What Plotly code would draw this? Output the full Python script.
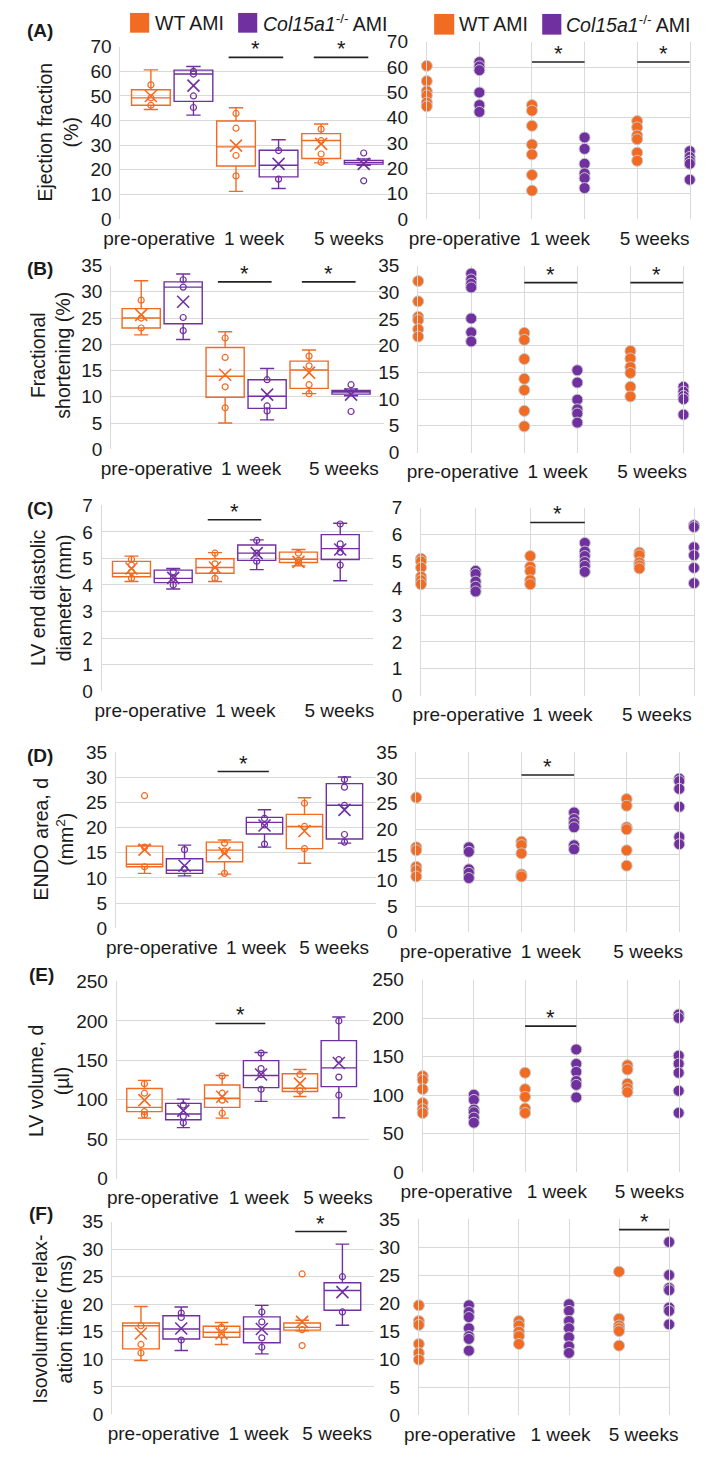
import plotly.graph_objects as go

FIG_W, FIG_H = 709, 1457
ORANGE = "#F26B22"
PURPLE = "#7030A0"
GRID = "#D9D9D9"
FONT = "Liberation Sans, Arial, sans-serif"
TXT = "#1a1a1a"

time_labels = ["pre-operative", "1 week", "5 weeks"]
legend_labels = ["WT AMI", "<i>Col15a1</i><sup>-/-</sup> AMI"]

# order of groups: WT pre, KO pre, WT 1wk, KO 1wk, WT 5wk, KO 5wk
# ---------------- (A) Ejection fraction (%)
A_lower = [44.5, 42.2, 11.2, 12.4, 22.8, 21.8]
A_q1 = [46.2, 47.8, 21.5, 17.1, 24.6, 22.3]
A_median = [49.2, 58.9, 29.3, 21.8, 31.9, 23.0]
A_q3 = [52.5, 60.5, 39.8, 27.9, 34.7, 23.8]
A_upper = [60.6, 62.0, 45.2, 32.2, 38.6, 24.4]
A_mean = [50.0, 54.2, 29.8, 22.4, 30.5, 22.4]
A_points = [[54.5, 49.2, 46.2], [60.0, 58.9, 50.0, 45.3], [42.9, 36.9, 25.8, 17.5],
            [27.8, 16.2], [36.5, 31.8, 26.4, 23.1], [26.8, 15.5]]
A_dots = [[60.5, 54.5, 50.5, 48.8, 46.0, 44.5], [62.0, 60.3, 58.8, 50.0, 45.0, 42.3],
          [45.0, 42.8, 36.8, 29.4, 25.5, 17.4, 11.2], [32.2, 27.7, 21.8, 18.0, 16.1, 12.2],
          [38.7, 36.2, 33.0, 31.5, 26.2, 23.0], [26.8, 24.5, 23.0, 21.8, 15.5]]

# ---------------- (B) Fractional shortening (%)
B_lower = [21.8, 20.9, 5.0, 5.6, 10.6, 10.2]
B_q1 = [23.1, 23.9, 9.9, 7.8, 11.6, 10.5]
B_median = [25.0, 30.9, 13.9, 10.1, 15.1, 10.9]
B_q3 = [26.8, 31.9, 19.4, 13.25, 16.8, 11.2]
B_upper = [32.1, 33.4, 22.4, 15.4, 18.9, 11.5]
B_mean = [25.6, 28.1, 14.2, 10.4, 14.6, 10.4]
B_points = [[28.4, 25.0, 23.1], [32.3, 30.9, 25.1, 22.6], [21.2, 17.5, 11.9, 7.9],
            [13.25, 8.25, 7.3], [17.75, 15.9, 12.3, 10.6], [12.3, 7.2]]
B_dots = [[32.1, 28.3, 25.4, 24.8, 23.1, 21.7], [33.5, 32.4, 31.6, 30.9, 25.1, 22.5, 20.8],
          [22.4, 21.1, 17.5, 13.8, 11.7, 7.8, 4.9], [15.4, 13.1, 9.9, 8.1, 7.3, 5.6],
          [19.0, 17.6, 16.0, 14.9, 12.3, 10.5], [12.3, 11.4, 10.6, 10.0, 7.1]]

# ---------------- (C) LV end diastolic diameter (mm)
C_lower = [4.13, 3.85, 4.13, 4.58, 4.72, 4.16]
C_q1 = [4.31, 4.09, 4.44, 4.93, 4.85, 4.96]
C_median = [4.44, 4.25, 4.66, 5.20, 4.97, 5.37]
C_q3 = [4.89, 4.56, 4.99, 5.51, 5.24, 5.90]
C_upper = [5.09, 4.62, 5.22, 5.70, 5.34, 6.33]
C_mean = [4.62, 4.27, 4.66, 5.20, 4.87, 5.34]
C_points = [[4.97, 4.75, 4.5, 4.25], [4.5, 4.25, 4.0], [5.2, 4.8, 4.56, 4.25],
            [5.68, 5.2, 4.9], [5.2, 4.93, 4.85], [6.3, 5.55, 5.24, 4.75]]
C_dots = [[5.1, 5.0, 4.77, 4.43, 4.3, 4.15], [4.65, 4.53, 4.25, 4.06, 3.88],
          [5.2, 4.8, 4.64, 4.3, 4.15], [5.69, 5.37, 5.2, 4.98, 4.83, 4.61],
          [5.33, 5.23, 4.96, 4.85, 4.74], [6.35, 6.28, 5.53, 5.23, 4.76, 4.19]]

# ---------------- (D) ENDO area, d (mm2)
D_lower = [10.9, 10.4, 10.75, 16.1, 12.9, 16.9]
D_q1 = [12.2, 10.9, 13.2, 18.7, 15.8, 17.7]
D_median = [12.7, 11.5, 15.5, 21.0, 20.2, 24.4]
D_q3 = [16.3, 13.8, 17.1, 22.0, 22.6, 28.7]
D_upper = [16.5, 16.5, 17.5, 23.5, 25.9, 30.0]
D_mean = [15.6, 12.4, 14.9, 20.4, 19.3, 23.5]
D_points = [[26.3, 16.1, 12.2], [15.6, 11.8], [16.9, 15.3, 10.9], [21.8, 20.5, 16.7],
            [24.8, 20.2, 15.8], [29.5, 28.0, 24.4, 18.6, 17.1]]
D_dots = [[26.2, 16.5, 15.9, 12.7, 12.0, 10.8], [16.5, 15.6, 12.2, 11.5, 10.5],
          [17.6, 16.9, 15.3, 11.2, 10.8], [23.3, 22.0, 21.2, 20.4, 16.9, 16.1],
          [25.9, 24.6, 20.4, 20.0, 15.9, 12.9], [29.9, 29.4, 27.9, 24.4, 18.5, 17.1]]

# ---------------- (E) LV volume, d (ul)
E_lower = [76.7, 64.6, 76.7, 97.9, 104.2, 77.1]
E_q1 = [85.0, 74.6, 90.4, 115.4, 110.4, 116.7]
E_median = [90.4, 82.0, 102.0, 130.8, 114.6, 140.4]
E_q3 = [114.2, 95.4, 118.75, 149.6, 132.9, 175.0]
E_upper = [124.6, 100.8, 130.8, 160.0, 138.3, 205.0]
E_mean = [99.6, 86.3, 103.75, 132.0, 120.4, 146.7]
E_points = [[120.4, 108.3, 85.0, 80.8], [93.3, 78.75, 70.8], [130.0, 108.3, 99.6, 82.9],
            [159.2, 139.6, 132.0, 113.3], [132.0, 111.25], [200.0, 150.8, 128.75, 105.8]]
E_dots = [[125, 120, 108, 90, 82, 77], [100.7, 94, 81.5, 78, 71, 64.4],
          [129.3, 108, 98, 83, 77], [159.6, 140.8, 130.5, 118.6, 113.5, 97.3],
          [139, 133.5, 115, 109, 104], [205, 200.5, 151.5, 141, 129.3, 105.8, 77.2]]

# ---------------- (F) Isovolumetric relaxation time (ms)
F_lower = [9.8, 11.6, 12.7, 11.0, 15.2, 16.2]
F_q1 = [11.9, 13.7, 14.0, 13.0, 15.3, 18.9]
F_median = [16.1, 15.5, 14.9, 15.5, 15.8, 22.5]
F_q3 = [16.6, 17.9, 16.0, 17.7, 16.6, 23.9]
F_upper = [19.6, 19.5, 16.7, 19.8, 17.1, 30.9]
F_mean = [14.7, 15.6, 14.7, 15.5, 16.8, 22.2]
F_points = [[16.1, 12.7, 11.15], [18.4, 17.6, 13.5], [15.8, 14.4], [18.6, 16.8, 13.9, 12.2],
            [25.5, 15.4, 12.5], [25.0, 18.6]]
F_dots = [[19.6, 16.8, 16.1, 12.7, 11.1, 9.9], [19.6, 18.4, 17.5, 15.5, 14.1, 13.6, 11.5],
          [16.8, 16.0, 14.9, 14.1, 12.7], [19.8, 18.6, 16.8, 15.5, 13.9, 12.3, 11.1],
          [25.6, 17.2, 16.0, 15.5, 15.0, 12.4], [30.9, 25.0, 22.7, 22.3, 19.2, 18.6, 16.2]]

panels = [
    dict(tag="(A)", title="Ejection fraction<br>(%)", ymax=70, dtick=10, sig=[1, 2],
         lower=A_lower, q1=A_q1, median=A_median, q3=A_q3, upper=A_upper, mean=A_mean,
         points=A_points, dots=A_dots),
    dict(tag="(B)", title="Fractional<br>shortening (%)", ymax=35, dtick=5, sig=[1, 2],
         lower=B_lower, q1=B_q1, median=B_median, q3=B_q3, upper=B_upper, mean=B_mean,
         points=B_points, dots=B_dots),
    dict(tag="(C)", title="LV end diastolic<br>diameter (mm)", ymax=7, dtick=1, sig=[1],
         lower=C_lower, q1=C_q1, median=C_median, q3=C_q3, upper=C_upper, mean=C_mean,
         points=C_points, dots=C_dots),
    dict(tag="(D)", title="ENDO area, d<br>(mm<sup>2</sup>)", ymax=35, dtick=5, sig=[1],
         lower=D_lower, q1=D_q1, median=D_median, q3=D_q3, upper=D_upper, mean=D_mean,
         points=D_points, dots=D_dots),
    dict(tag="(E)", title="LV volume, d<br>(µl)", ymax=250, dtick=50, sig=[1],
         lower=E_lower, q1=E_q1, median=E_median, q3=E_q3, upper=E_upper, mean=E_mean,
         points=E_points, dots=E_dots),
    dict(tag="(F)", title="Isovolumetric relax-<br>ation time (ms)", ymax=35, dtick=5, sig=[2],
         lower=F_lower, q1=F_q1, median=F_median, q3=F_q3, upper=F_upper, mean=F_mean,
         points=F_points, dots=F_dots),
]

# ---------------- geometry (pixels): plot boxes (left, right, top, bottom)
GEOM = [
    dict(L=(103, 392, 37.3, 212), R=(423.3, 698.3, 32.3, 212), tag=(18.5, 21), title=(37, 124),
         ltick=[0.42, 1.45, 2.48], rtick=[0.72, 2.53, 4.33], lsig=65.7, rsig=62.0),
    dict(L=(93.3, 378.3, 259.3, 445.7), R=(414.3, 691.7, 259.3, 449), tag=(18.5, 262.5), title=(30, 350),
         ltick=[0.50, 1.54, 2.56], rtick=[0.84, 2.63, 4.41], lsig=31.9, rsig=31.8),
    dict(L=(83.3, 366.8, 502.7, 691), R=(417.3, 702.7, 505, 695.7), tag=(19, 505.5), title=(30, 597),
         ltick=[0.54, 1.59, 2.63], rtick=[0.87, 2.59, 4.32], lsig=6.46, rsig=6.45),
    dict(L=(98.3, 369.8, 752.7, 931.7), R=(412.3, 687.3, 753.3, 935.3), tag=(19, 756.5), title=(33, 842),
         ltick=[0.53, 1.62, 2.52], rtick=[0.75, 2.56, 4.41], lsig=31.1, rsig=30.6),
    dict(L=(99, 363, 985.7, 1185.7), R=(419, 686.7, 984, 1179.3), tag=(20, 978.5), title=(28, 1087),
         ltick=[0.55, 1.69, 2.63], rtick=[0.66, 2.62, 4.43], lsig=196.75, rsig=189.9),
    dict(L=(94.3, 367.9, 1229.3, 1425), R=(415, 676.7, 1226.7, 1425.7), tag=(20, 1221.5), title=(32, 1328),
         ltick=[0.59, 1.68, 2.58], rtick=[0.82, 2.83, 4.49], lsig=33.2, rsig=33.1),
]

BOX_POS = [0.33 + 0.462 * k for k in range(6)]
BOX_W = 0.42
COLORS = [ORANGE, PURPLE]


def px(v):
    return v / FIG_W


def py(v):
    return 1 - v / FIG_H


fig = go.Figure()
layout = dict(
    width=FIG_W, height=FIG_H, margin=dict(l=0, r=0, t=0, b=0),
    paper_bgcolor="white", plot_bgcolor="white", showlegend=False,
    font=dict(family=FONT, size=19, color=TXT),
)
annotations = []
shapes = []

for p, (pan, g) in enumerate(zip(panels, GEOM)):
    nl, nr = 2 * p + 1, 2 * p + 2
    xl, yl = f"x{nl}", f"y{nl}"
    xr, yr = f"x{nr}", f"y{nr}"

    # ---- left: box plots
    for gi in (0, 1):
        idx = [gi, gi + 2, gi + 4]
        col = COLORS[gi]
        fig.add_trace(go.Box(
            x=[BOX_POS[i] for i in idx],
            q1=[pan["q1"][i] for i in idx], median=[pan["median"][i] for i in idx],
            q3=[pan["q3"][i] for i in idx],
            lowerfence=[pan["lower"][i] for i in idx], upperfence=[pan["upper"][i] for i in idx],
            width=BOX_W, whiskerwidth=0.37, boxpoints=False,
            line=dict(color=col, width=1.4), fillcolor="rgba(0,0,0,0)",
            xaxis=xl, yaxis=yl, hoverinfo="skip", showlegend=False))
        px_pts, py_pts = [], []
        for i in idx:
            px_pts += [BOX_POS[i]] * len(pan["points"][i])
            py_pts += pan["points"][i]
        fig.add_trace(go.Scatter(
            x=px_pts, y=py_pts, mode="markers", xaxis=xl, yaxis=yl, cliponaxis=False,
            marker=dict(symbol="circle-open", size=6, color=col, line=dict(width=1.2, color=col)),
            hoverinfo="skip"))
        fig.add_trace(go.Scatter(
            x=[BOX_POS[i] for i in idx], y=[pan["mean"][i] for i in idx], mode="markers",
            xaxis=xl, yaxis=yl, cliponaxis=False,
            marker=dict(symbol="x-thin-open", size=12, color=col, line=dict(width=1.6, color=col)),
            hoverinfo="skip"))

    # ---- right: dot plots
    for gi in (0, 1):
        dx, dy = [], []
        for i in (gi, gi + 2, gi + 4):
            dx += [i] * len(pan["dots"][i])
            dy += pan["dots"][i]
        fig.add_trace(go.Scatter(
            x=dx, y=dy, mode="markers", xaxis=xr, yaxis=yr, cliponaxis=False,
            marker=dict(size=11, color=COLORS[gi], line=dict(width=1, color="#C8C8C8")),
            hoverinfo="skip"))

    Lb, Rb = g["L"], g["R"]
    ykw = dict(range=[0, pan["ymax"]], dtick=pan["dtick"], tick0=0, showgrid=True,
               gridcolor=GRID, gridwidth=1, zeroline=False, ticks="outside",
               tickcolor="rgba(0,0,0,0)", tickfont=dict(size=19, color=TXT, family=FONT),
               showline=True, linecolor=GRID, linewidth=1)
    layout[f"xaxis{nl}"] = dict(domain=[px(Lb[0]), px(Lb[1])], anchor=yl, range=[0, 3],
                                showgrid=False, zeroline=False, showline=False,
                                tickmode="array", tickvals=g["ltick"], ticktext=time_labels,
                                ticks="outside", ticklen=2, tickcolor="rgba(0,0,0,0)",
                                tickfont=dict(size=19, color=TXT, family=FONT))
    layout[f"yaxis{nl}"] = dict(domain=[py(Lb[3]), py(Lb[2])], anchor=xl, ticklen=4, **ykw)
    layout[f"xaxis{nr}"] = dict(domain=[px(Rb[0]), px(Rb[1])], anchor=yr, range=[0, 5],
                                showgrid=False, zeroline=False, showline=False,
                                tickmode="array", tickvals=g["rtick"], ticktext=time_labels,
                                ticks="outside", ticklen=2, tickcolor="rgba(0,0,0,0)",
                                tickfont=dict(size=19, color=TXT, family=FONT),
                                minor=dict(tickmode="array", tickvals=[0, 1, 2, 3, 4, 5],
                                           showgrid=True, gridcolor=GRID, gridwidth=1, ticks=""))
    layout[f"yaxis{nr}"] = dict(domain=[py(Rb[3]), py(Rb[2])], anchor=xr, mirror=True,
                                ticklen=14, **ykw)

    # panel tag and y title
    annotations.append(dict(text=f"<b>{pan['tag']}</b>", x=px(g["tag"][0]), y=py(g["tag"][1]),
                            xref="paper", yref="paper", showarrow=False, xanchor="center",
                            yanchor="middle", font=dict(size=19, color=TXT, family=FONT)))
    annotations.append(dict(text=pan["title"], x=px(g["title"][0]), y=py(g["title"][1]),
                            xref="paper", yref="paper", showarrow=False, textangle=-90,
                            xanchor="center", yanchor="middle",
                            font=dict(size=19.5, color=TXT, family=FONT)))

    # significance bars
    for t in pan["sig"]:
        x0 = BOX_POS[2 * t] - 0.08
        x1 = BOX_POS[2 * t + 1] + 0.05
        shapes.append(dict(type="line", xref=xl, yref=yl, x0=x0, x1=x1, y0=g["lsig"], y1=g["lsig"],
                           line=dict(color="#222222", width=1.6)))
        annotations.append(dict(text="*", xref=xl, yref=yl, x=(x0 + x1) / 2, y=g["lsig"],
                                showarrow=False, yanchor="bottom", yshift=-6,
                                font=dict(size=22, color=TXT, family=FONT)))
        shapes.append(dict(type="line", xref=xr, yref=yr, x0=2 * t, x1=2 * t + 1,
                           y0=g["rsig"], y1=g["rsig"], line=dict(color="#222222", width=1.6)))
        annotations.append(dict(text="*", xref=xr, yref=yr, x=2 * t + 0.5, y=g["rsig"],
                                showarrow=False, yanchor="bottom", yshift=-6,
                                font=dict(size=22, color=TXT, family=FONT)))

# legends (top of panel A, left and right)
LEG = [
    dict(sq=(113, 3, 133, 23), tx=137, sq2=(226, 3, 246, 23), tx2=250),
    dict(sq=(431, 4, 452, 25), tx=455, sq2=(544, 4, 564, 25), tx2=567),
]
for lg in LEG:
    for (sq, tx, col, lab) in [(lg["sq"], lg["tx"], ORANGE, legend_labels[0]),
                               (lg["sq2"], lg["tx2"], PURPLE, legend_labels[1])]:
        shapes.append(dict(type="rect", xref="paper", yref="paper", x0=px(sq[0]), x1=px(sq[2]),
                           y0=py(sq[3]), y1=py(sq[1]), fillcolor=col, line=dict(width=0)))
        annotations.append(dict(text=lab, xref="paper", yref="paper", x=px(tx),
                                y=py((sq[1] + sq[3]) / 2), xanchor="left", yanchor="middle",
                                showarrow=False, font=dict(size=19.5, color=TXT, family=FONT)))

layout["annotations"] = annotations
layout["shapes"] = shapes
fig.update_layout(**layout)
fig.write_html("out.html")
